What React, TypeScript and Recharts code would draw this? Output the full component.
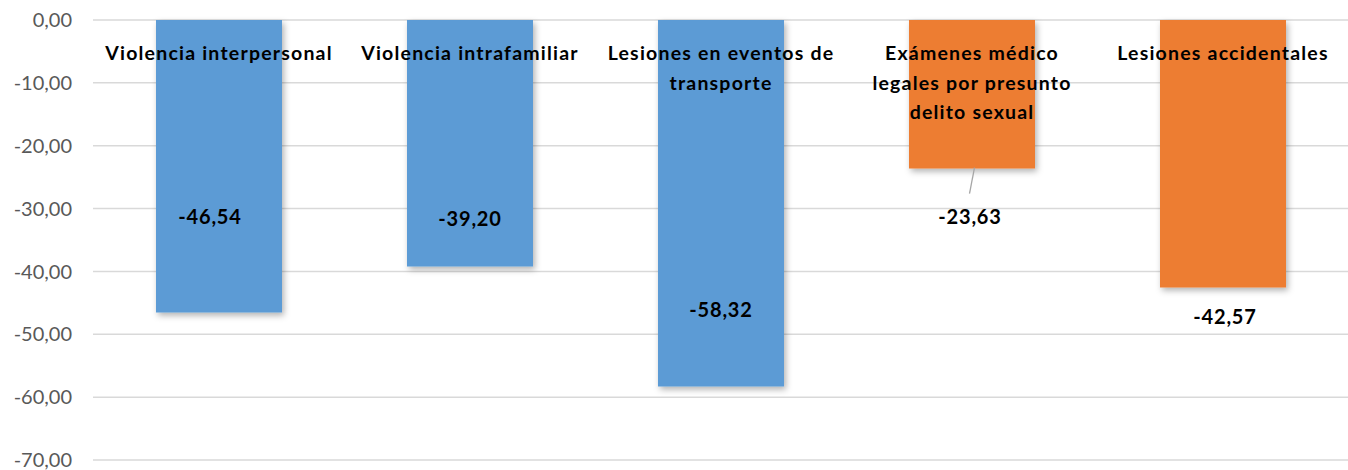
import React from "react";
import { BarChart, Bar, XAxis, YAxis, CartesianGrid, Cell, LabelList } from "recharts";

// categories and their values (percent change)
const categories = [
  "Violencia interpersonal",
  "Violencia intrafamiliar",
  "Lesiones en eventos de transporte",
  "Exámenes médico legales por presunto delito sexual",
  "Lesiones accidentales",
];
const values = [-46.54, -39.2, -58.32, -23.63, -42.57];
const groups = ["violencia", "violencia", "violencia", "otros", "otros"];
const yTicks = [0, -10, -20, -30, -40, -50, -60, -70];

// how each category name is broken into lines inside the chart
const categoryLines = [
  ["Violencia interpersonal"],
  ["Violencia intrafamiliar"],
  ["Lesiones en eventos de", "transporte"],
  ["Exámenes médico", "legales por presunto", "delito sexual"],
  ["Lesiones accidentales"],
];

const groupColors: Record<string, string> = {
  violencia: "#5B9BD5",
  otros: "#ED7D31",
};

// value label placement relative to the bar end (px), as moved by hand in the original
const valueLabelOffset = [-97, -48, -78, 47, 28];
const valueLabelDx = [-9, 0, 0, -2, 2];

const FONT = "Lato, 'Open Sans', sans-serif";

const data = categories.map((name, i) => ({ name, value: values[i], group: groups[i] }));

const fmt = (v: number) => v.toFixed(2).replace(".", ",");

function CategoryLabel(props: any) {
  const { x, y, width, height, index } = props;
  const top = Math.min(y, y + height);
  const cx = x + width / 2;
  const lines = categoryLines[index] || [];
  return (
    <text
      x={cx}
      y={top + 32}
      textAnchor="middle"
      dominantBaseline="central"
      fontFamily={FONT}
      fontWeight={700}
      fontSize={19.5}
      letterSpacing={1.2}
      fill="#000"
    >
      {lines.map((line: string, i: number) => (
        <tspan key={i} x={cx} dy={i === 0 ? 0 : 29.5}>
          {line}
        </tspan>
      ))}
    </text>
  );
}

function ValueLabel(props: any) {
  const { x, y, width, height, index, value } = props;
  const bottom = Math.max(y, y + height);
  const cx = x + width / 2;
  const ly = bottom + valueLabelOffset[index];
  return (
    <g>
      {index === 3 && (
        <line x1={cx + 2.5} y1={bottom - 1} x2={cx - 2.5} y2={bottom + 25} stroke="#a6a6a6" strokeWidth={1.3} />
      )}
      <text
        x={cx + valueLabelDx[index]}
        y={ly}
        textAnchor="middle"
        dominantBaseline="central"
        fontFamily={FONT}
        fontWeight={700}
        fontSize={20}
        letterSpacing={0.8}
        fill="#000"
      >
        {fmt(value)}
      </text>
    </g>
  );
}

export default function App() {
  return (
    <div style={{ position: "absolute", left: 0, top: 0, background: "#fff" }}>
      <BarChart
        width={1348}
        height={470}
        data={data}
        margin={{ top: 20, right: 0, left: 0, bottom: 10 }}
        barSize={126}
      >
        <defs>
          <filter id="barShadow" x="-10%" y="-10%" width="130%" height="130%">
            <feDropShadow dx="2" dy="3" stdDeviation="3" floodColor="#000" floodOpacity="0.3" />
          </filter>
        </defs>
        <CartesianGrid vertical={false} stroke="#d9d9d9" strokeWidth={1.5} />
        <XAxis dataKey="name" hide />
        <YAxis
          domain={[-70, 0]}
          ticks={yTicks}
          interval={0}
          width={93}
          axisLine={false}
          tickLine={false}
          tickMargin={15}
          tickFormatter={fmt}
          tick={{ fill: "#595959", fontSize: 20, fontFamily: FONT }}
        />
        <Bar dataKey="value" isAnimationActive={false} filter="url(#barShadow)">
          {data.map((d, i) => (
            <Cell key={i} fill={groupColors[d.group]} />
          ))}
          <LabelList dataKey="name" content={CategoryLabel} />
          <LabelList dataKey="value" content={ValueLabel} />
        </Bar>
      </BarChart>
    </div>
  );
}
